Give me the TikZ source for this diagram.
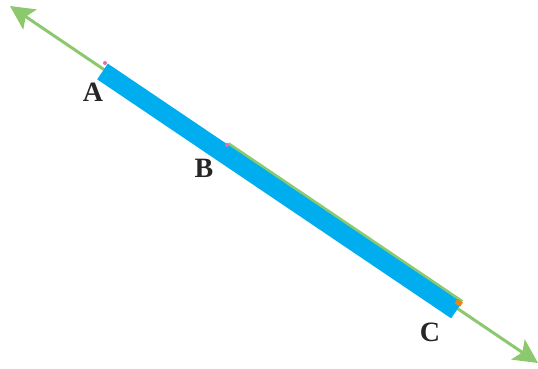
\documentclass[tikz,border=0pt]{standalone}
\usepackage{fontspec}
\setmainfont{Liberation Serif}
\usepackage{tikz}
\usetikzlibrary{arrows.meta, calc}
\definecolor{linegreen}{RGB}{140,200,110}
\definecolor{segblue}{RGB}{0,174,239}
\definecolor{markpink}{RGB}{230,110,170}
\definecolor{markorange}{RGB}{240,130,20}

\begin{document}
\begin{tikzpicture}[x=1pt,y=-1pt,
  pt label/.style={font=\fontsize{28}{28}\selectfont\bfseries, text=black!85},
  line/.style={linegreen, line width=3pt, {Stealth[length=24pt,width=24pt,inset=5pt]}-{Stealth[length=24pt,width=24pt,inset=5pt]}},
  segment/.style={segblue, line width=19pt},
  mark/.style={circle, fill=#1, inner sep=0pt, minimum size=4pt}]
  \useasboundingbox (0,0) rectangle (538,369);

  \coordinate (L) at (10,6);
  \coordinate (R) at (538,363);
  \coordinate (A) at (106,66);
  \coordinate (B) at (226,147);
  \coordinate (C) at (460,305);

  % the line and the segment on it
  \draw[line] (L) -- (R);
  \draw[linegreen, line width=7pt] ($(B)+(1.2,-1.8)$) -- ($(C)+(1.2,-1.8)$);
  \draw[segment] ($(A)+(-3.5,5.5)$) -- ($(C)+(-3.5,5.5)$);
  \draw[markorange, line width=5pt] ($(C)+(-4,-4)$) -- ($(C)+(1.5,-0.3)$);

  \node[mark=markpink] (ma) at ($(A)+(-1,-3)$) {};
  \node[mark=markpink] (mb) at ($(B)+(1,-2)$) {};

  \node[pt label] (la) at (93,92) {A};
  \node[pt label] (lb) at (204,168) {B};
  \node[pt label] (lc) at (430,332) {C};
\end{tikzpicture}
\end{document}
